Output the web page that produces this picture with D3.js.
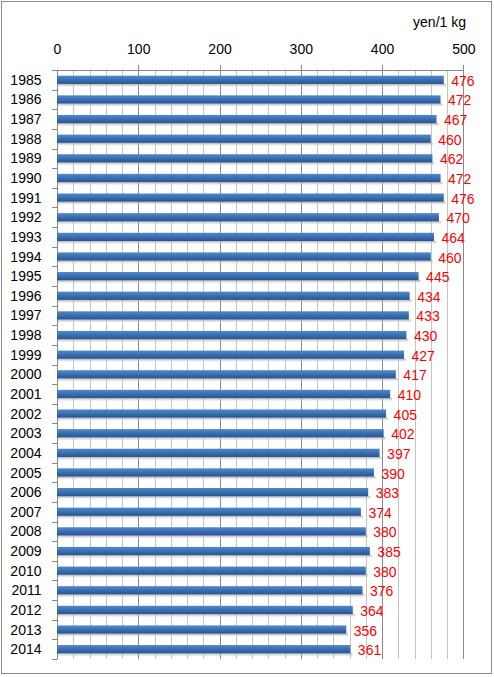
<!DOCTYPE html>
<html><head><meta charset="utf-8">
<script src="https://cdn.jsdelivr.net/npm/d3@7"></script>
<style>body{margin:0;background:#fff}svg{display:block}text{font-family:"Liberation Sans",Arial,sans-serif}</style>
</head><body>
<script>
const years = ["1985","1986","1987","1988","1989","1990","1991","1992","1993","1994","1995","1996","1997","1998","1999","2000","2001","2002","2003","2004","2005","2006","2007","2008","2009","2010","2011","2012","2013","2014"];
const prices = [476,472,467,460,462,472,476,470,464,460,445,434,433,430,427,417,410,405,402,397,390,383,374,380,385,380,376,364,356,361];
const majorTicks = [0,100,200,300,400,500];
const minorTicks = d3.range(0,501,20);
const unitLabel = "yen/1 kg";

(function(){
const W=494,H=677;
const svg=d3.select("body").append("svg").attr("width",W).attr("height",H);
svg.append("rect").attr("x",1.5).attr("y",1.5).attr("width",490).attr("height",672).attr("fill","#fff").attr("stroke","#8c8c8c").attr("stroke-width",1);

const x=d3.scaleLinear().domain([0,500]).range([57,463.3]);
const pTop=70,pBottom=659;
const y=d3.scaleBand().domain(years).range([pTop,pBottom]).paddingInner(0.58).paddingOuter(0.29);

const defs=svg.append("defs");
const g1=defs.append("linearGradient").attr("id","bar").attr("x1",0).attr("y1",0).attr("x2",0).attr("y2",1);
g1.append("stop").attr("offset","0%").attr("stop-color","#5189cb");
g1.append("stop").attr("offset","35%").attr("stop-color","#4077bb");
g1.append("stop").attr("offset","100%").attr("stop-color","#28548f");
const g2=defs.append("linearGradient").attr("id","shadow").attr("x1",0).attr("y1",0).attr("x2",0).attr("y2",1);
g2.append("stop").attr("offset","0%").attr("stop-color","#9a9a9a").attr("stop-opacity",0.8);
g2.append("stop").attr("offset","100%").attr("stop-color","#dcdcdc").attr("stop-opacity",0.2);

// minor gridlines
svg.append("g").selectAll("line").data(minorTicks.filter(d=>d%100!==0)).join("line")
  .attr("x1",d=>Math.round(x(d))+0.5).attr("x2",d=>Math.round(x(d))+0.5)
  .attr("y1",pTop).attr("y2",pBottom).attr("stroke","#c4c4c4").attr("stroke-width",1);
// major gridlines (extend above as tick marks)
svg.append("g").selectAll("line").data(majorTicks.filter(d=>d>0)).join("line")
  .attr("x1",d=>Math.round(x(d))+0.5).attr("x2",d=>Math.round(x(d))+0.5)
  .attr("y1",pTop-5).attr("y2",pBottom).attr("stroke","#8a8a8a").attr("stroke-width",1);
// top axis line
svg.append("line").attr("x1",x(0)).attr("x2",x(500)+0.5).attr("y1",pTop+0.5).attr("y2",pTop+0.5).attr("stroke","#8a8a8a");

// top axis labels
const xa=d3.axisTop(x).tickValues(majorTicks).tickSize(0).tickPadding(0);
const ga=svg.append("g").attr("transform",`translate(0,${pTop})`).call(xa);
ga.select(".domain").remove();
ga.selectAll("text").attr("y",-16).attr("dy",0).attr("font-size",14).attr("fill","#000").style("font-family",'"Liberation Sans",Arial,sans-serif');

svg.append("text").attr("x",466).attr("y",27).attr("text-anchor","end").attr("font-size",14).text(unitLabel);

// left axis
const ya=d3.axisLeft(y).tickSize(0).tickPadding(16);
const gl=svg.append("g").attr("transform",`translate(${Math.round(x(0))+0.5},0)`).call(ya);
gl.select(".domain").remove();
gl.selectAll("text").attr("font-size",14).attr("fill","#000").style("font-family",'"Liberation Sans",Arial,sans-serif').attr("dy","0.36em");
const step=(pBottom-pTop)/years.length;
svg.append("line").attr("x1",Math.round(x(0))+0.5).attr("x2",Math.round(x(0))+0.5).attr("y1",pTop).attr("y2",pBottom).attr("stroke","#8a8a8a");
svg.append("g").selectAll("line").data(d3.range(years.length+1)).join("line")
  .attr("x1",52).attr("x2",Math.round(x(0))+0.5)
  .attr("y1",i=>Math.round(pTop+i*step)+0.5).attr("y2",i=>Math.round(pTop+i*step)+0.5)
  .attr("stroke","#8a8a8a");

// bars
const bars=svg.append("g");
bars.selectAll("rect.sh").data(prices).join("rect").attr("class","sh")
  .attr("x",x(0)+1).attr("y",(d,i)=>y(years[i])+y.bandwidth())
  .attr("width",d=>x(d)-x(0)+1).attr("height",3).attr("fill","url(#shadow)");
bars.selectAll("rect.b").data(prices).join("rect").attr("class","b")
  .attr("x",x(0)).attr("y",(d,i)=>y(years[i]))
  .attr("width",d=>x(d)-x(0)).attr("height",y.bandwidth()).attr("fill","url(#bar)");

// value labels
svg.append("g").selectAll("text").data(prices).join("text")
  .attr("x",d=>x(d)+7.5).attr("y",(d,i)=>y(years[i])+y.bandwidth()/2+1).attr("dy","0.36em")
  .attr("font-size",14).attr("fill","#ff0000").text(d=>d);
})();
</script>
</body></html>
